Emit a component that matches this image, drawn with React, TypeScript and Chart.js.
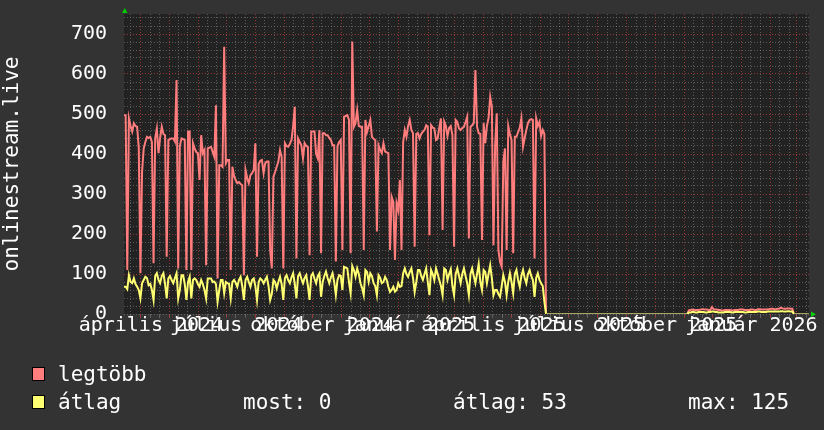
import React, { useEffect, useRef } from 'react';
import { Chart, registerables } from 'chart.js';

Chart.register(...registerables);

// ---- data -------------------------------------------------------------
const SERIES_LABELS = ['legtöbb', 'átlag'];
const SAMPLE_STEP_DAYS = 1.75; // four samples per week
const RANGE_START = Date.UTC(2024, 2, 14);
const RANGE_DAYS = 730;

// legtöbb (max)
const maxValues = [
  497, 497, 110, 489, 470, 456, 477, 470, 468, 414,
  102, 356, 414, 430, 443, 440, 443, 430, 127, 440,
  464, 402, 440, 468, 450, 447, 143, 435, 437, 439,
  439, 431, 585, 114, 420, 439, 437, 435, 110, 456,
  456, 110, 427, 414, 405, 402, 335, 447, 402, 410,
  122, 414, 416, 418, 405, 393, 522, 89, 372, 372,
  368, 668, 377, 385, 385, 110, 368, 345, 335, 327,
  330, 325, 322, 97, 360, 340, 327, 347, 352, 360,
  427, 143, 375, 383, 385, 352, 377, 381, 381, 160,
  114, 343, 355, 368, 381, 410, 393, 114, 427, 420,
  418, 425, 435, 470, 518, 139, 439, 430, 422, 389,
  427, 420, 418, 147, 456, 456, 456, 400, 389, 460,
  152, 452, 452, 447, 447, 440, 435, 422, 422, 131,
  420, 430, 435, 160, 493, 495, 497, 485, 152, 681,
  468, 477, 510, 470, 468, 468, 160, 485, 455, 470,
  485, 443, 438, 435, 206, 422, 410, 402, 427, 406,
  404, 402, 160, 293, 280, 135, 277, 260, 335, 160,
  430, 460, 443, 470, 485, 460, 452, 168, 450, 452,
  439, 450, 456, 460, 472, 468, 197, 472, 466, 464,
  435, 439, 465, 489, 210, 481, 470, 445, 465, 470,
  447, 168, 485, 480, 464, 460, 465, 468, 480, 493,
  189, 468, 472, 477, 610, 468, 452, 450, 185, 477,
  427, 470, 490, 543, 518, 172, 420, 502, 160, 130,
  118, 381, 414, 160, 470, 450, 435, 152, 443, 443,
  455, 465, 489, 418, 440, 460, 477, 485, 487, 485,
  139, 489, 470, 480, 445, 460, 450,
  0, 0, 0, 0, 0, 0, 0, 0, 0, 0,
  0, 0, 0, 0, 0, 0, 0, 0, 0, 0,
  0, 0, 0, 0, 0, 0, 0, 0, 0, 0,
  0, 0, 0, 0, 0, 0, 0, 0, 0, 0,
  0, 0, 0, 0, 0, 0, 0, 0, 0, 0,
  0, 0, 0, 0, 0, 0, 0, 0, 0, 0,
  0, 0, 0, 0, 0, 0, 0, 0, 0, 0,
  0, 0, 0, 0, 0, 0, 0, 0, 0, 0,
  0, 0, 0, 0, 0, 0, 0,
  9, 10, 11, 10, 10, 10, 10, 11, 12, 12,
  11, 11, 10, 10, 17, 12, 11, 11, 10, 10,
  9, 9, 10, 10, 10, 10, 9, 9, 10, 10,
  10, 11, 11, 11, 10, 10, 10, 10, 11, 11,
  10, 10, 12, 12, 11, 11, 11, 11, 12, 12,
  13, 13, 12, 12, 13, 13, 16, 14, 13, 13,
  14, 14, 13, 13,
  0, 0, 0, 0, 0, 0, 0, 0, 0, 0,
];

// átlag (average)
const avgValues = [
  68, 68, 62, 97, 80, 77, 89, 75, 68, 60,
  39, 77, 85, 93, 90, 72, 75, 60, 35, 95,
  102, 85, 77, 95, 102, 75, 39, 89, 95, 85,
  77, 90, 102, 39, 60, 97, 97, 75, 35, 80,
  93, 39, 85, 89, 85, 75, 68, 85, 75, 60,
  39, 89, 89, 89, 80, 81, 75, 31, 60, 85,
  85, 52, 80, 77, 75, 39, 80, 85, 78, 68,
  85, 93, 70, 35, 85, 93, 80, 68, 85, 89,
  70, 35, 80, 89, 85, 77, 85, 93, 70, 35,
  50, 85, 80, 64, 80, 93, 75, 35, 90, 97,
  85, 77, 92, 102, 75, 39, 95, 102, 88, 77,
  90, 97, 70, 35, 95, 102, 88, 77, 95, 102,
  43, 80, 95, 106, 90, 77, 92, 102, 80, 47,
  85, 97, 95, 60, 118, 116, 114, 80, 52, 120,
  110, 93, 114, 100, 77, 65, 47, 110, 105, 81,
  102, 95, 77, 70, 47, 97, 90, 77, 80, 93,
  85, 68, 55, 60, 68, 56, 60, 77, 68, 70,
  102, 114, 100, 93, 105, 114, 90, 55, 80, 110,
  110, 95, 85, 100, 114, 80, 47, 110, 100, 85,
  114, 100, 85, 70, 47, 114, 110, 85, 100, 112,
  70, 47, 100, 114, 95, 77, 100, 114, 95, 77,
  47, 100, 114, 95, 77, 100, 125, 80, 60, 110,
  105, 77, 100, 122, 90, 47, 60, 60, 50, 43,
  70, 97, 80, 47, 80, 102, 80, 52, 100, 110,
  85, 68, 95, 110, 90, 77, 100, 110, 95, 85,
  43, 90, 102, 85, 77, 70, 31,
  0, 0, 0, 0, 0, 0, 0, 0, 0, 0,
  0, 0, 0, 0, 0, 0, 0, 0, 0, 0,
  0, 0, 0, 0, 0, 0, 0, 0, 0, 0,
  0, 0, 0, 0, 0, 0, 0, 0, 0, 0,
  0, 0, 0, 0, 0, 0, 0, 0, 0, 0,
  0, 0, 0, 0, 0, 0, 0, 0, 0, 0,
  0, 0, 0, 0, 0, 0, 0, 0, 0, 0,
  0, 0, 0, 0, 0, 0, 0, 0, 0, 0,
  0, 0, 0, 0, 0, 0, 0,
  4, 4, 5, 5, 4, 4, 5, 5, 5, 5,
  4, 4, 5, 5, 6, 6, 5, 5, 4, 4,
  4, 4, 5, 5, 5, 5, 4, 4, 5, 5,
  5, 5, 5, 5, 4, 4, 5, 5, 5, 5,
  5, 5, 6, 6, 5, 5, 5, 5, 6, 6,
  6, 6, 6, 6, 6, 6, 7, 7, 6, 6,
  7, 7, 6, 6,
  0, 0, 0, 0, 0, 0, 0, 0, 0, 0,
];

const xLabelDates = [
  '2024-04-01', '2024-07-01', '2024-10-01', '2025-01-01',
  '2025-04-01', '2025-07-01', '2025-10-01', '2026-01-01',
];
const xLabelTexts = [
  'április 2024', 'július 2024', 'október 2024', 'január 2025',
  'április 2025', 'július 2025', 'október 2025', 'január 2026',
];
const yLabelValues = [0, 100, 200, 300, 400, 500, 600, 700];
const legendStats = ['most: 0', 'átlag: 53', 'max: 125'];
const Y_TITLE = 'onlinestream.live';

// ---- styles -----------------------------------------------------------
const FONT = '"DejaVu Sans Mono", monospace';
const BACK = '#333333';
const CANVAS_BG = '#222222';
const RED = '#ff7d7d';
const YELLOW = '#ffff72';
const GRID_MINOR = 'rgba(130,130,130,0.6)';
const GRID_MAJOR = 'rgba(175,60,60,0.8)';
const ARROW = '#00d000';

const DAY_MS = 86400000;
const dayOf = (y: number, m: number, d: number) => (Date.UTC(y, m - 1, d) - RANGE_START) / DAY_MS;
const dayOfIso = (s: string) => (Date.parse(s + 'T00:00:00Z') - RANGE_START) / DAY_MS;

// grid ticks: month starts (major) and 11th/21st (minor)
const majorDays: number[] = [];
const minorDays: number[] = [];
for (let y = 2024; y <= 2026; y++) {
  for (let m = 1; m <= 12; m++) {
    for (const d of [1, 11, 21]) {
      const v = dayOf(y, m, d);
      if (v <= 0 || v >= RANGE_DAYS) continue;
      (d === 1 ? majorDays : minorDays).push(v);
    }
  }
}
const majorSet = new Set(majorDays);
const labelMap = new Map<number, string>();
xLabelDates.forEach((s, i) => labelMap.set(dayOfIso(s), xLabelTexts[i]));
const xTickValues = [...majorDays, ...minorDays].sort((a, b) => a - b);

const yGridValues: number[] = [];
for (let v = 0; v < 750; v += 20) yGridValues.push(v);

const toPoints = (vals: number[]) => vals.map((v, i) => ({ x: i * SAMPLE_STEP_DAYS, y: v }));

const zeroSeg = (ctx: any) => ctx.p0.parsed.y === 0 && ctx.p1.parsed.y === 0;

const rrdPlugin = {
  id: 'rrdDecor',
  beforeDraw(chart: any) {
    const { ctx, chartArea: a } = chart;
    ctx.save();
    ctx.fillStyle = BACK;
    ctx.fillRect(0, 0, chart.width, chart.height);
    ctx.fillStyle = CANVAS_BG;
    ctx.fillRect(a.left, a.top, a.right - a.left, a.bottom - a.top);
    ctx.restore();
  },
  afterDraw(chart: any) {
    const { ctx, chartArea: a } = chart;
    ctx.save();
    // arrows
    ctx.fillStyle = ARROW;
    ctx.beginPath();
    ctx.moveTo(a.left - 2, a.top - 1);
    ctx.lineTo(a.left + 3.5, a.top - 1);
    ctx.lineTo(a.left + 0.75, a.top - 6);
    ctx.closePath();
    ctx.fill();
    ctx.beginPath();
    ctx.moveTo(a.right + 2, a.bottom - 2.5);
    ctx.lineTo(a.right + 2, a.bottom + 3);
    ctx.lineTo(a.right + 7, a.bottom + 0.25);
    ctx.closePath();
    ctx.fill();

    // legend
    const colors = [RED, YELLOW];
    const rows = [381, 409];
    ctx.font = '21px ' + FONT;
    ctx.textBaseline = 'alphabetic';
    ctx.textAlign = 'left';
    SERIES_LABELS.forEach((lab, i) => {
      const by = rows[i];
      ctx.fillStyle = colors[i];
      ctx.fillRect(32, by - 14, 13, 14);
      ctx.strokeStyle = '#000';
      ctx.lineWidth = 1;
      ctx.strokeRect(32.5, by - 13.5, 12, 13);
      ctx.fillStyle = '#ffffff';
      ctx.fillText(lab, 58, by);
    });
    const statX = [243, 453, 688];
    legendStats.forEach((s, i) => ctx.fillText(s, statX[i], rows[1]));
    ctx.restore();
  },
};

export default function App() {
  const ref = useRef<HTMLCanvasElement>(null);
  useEffect(() => {
    document.body.style.margin = '0';
    document.body.style.background = BACK;
    const chart = new Chart(ref.current as HTMLCanvasElement, {
      type: 'line',
      data: {
        datasets: [
          {
            label: SERIES_LABELS[0],
            data: toPoints(maxValues),
            borderColor: RED,
            borderWidth: 2,
            pointRadius: 0,
            tension: 0,
            fill: false,
            order: 1,
            segment: { borderColor: (c: any) => (zeroSeg(c) ? 'rgba(0,0,0,0)' : undefined) },
          },
          {
            label: SERIES_LABELS[1],
            data: toPoints(avgValues),
            borderColor: YELLOW,
            borderWidth: 2,
            pointRadius: 0,
            tension: 0,
            fill: false,
            order: 0,
            segment: { borderColor: (c: any) => (zeroSeg(c) ? 'rgba(170,165,95,1)' : undefined) },
          },
        ],
      },
      options: {
        responsive: false,
        animation: false,
        devicePixelRatio: 1,
        events: [],
        layout: { padding: { top: 14, right: 15, bottom: 0, left: 0 } },
        plugins: { legend: { display: false }, tooltip: { enabled: false } },
        scales: {
          x: {
            type: 'linear',
            min: 0,
            max: RANGE_DAYS,
            afterBuildTicks: (s: any) => {
              s.ticks = xTickValues.map((v) => ({ value: v }));
            },
            afterFit: (s: any) => {
              s.height = 116;
              s.paddingLeft = 0;
              s.paddingRight = 0;
            },
            grid: {
              color: (c: any) => (c.tick && majorSet.has(c.tick.value) ? GRID_MAJOR : GRID_MINOR),
              tickColor: (c: any) => (c.tick && majorSet.has(c.tick.value) ? GRID_MAJOR : GRID_MINOR),
              lineWidth: 1,
              drawTicks: true,
              tickLength: 4,
            },
            border: { display: false, dash: [1, 2] },
            ticks: {
              autoSkip: false,
              maxRotation: 0,
              minRotation: 0,
              color: '#ffffff',
              font: { family: FONT, size: 20 },
              padding: -4,
              labelOffset: 10,
              callback: (v: any) => labelMap.get(v) ?? '',
            },
          },
          y: {
            type: 'linear',
            min: 0,
            max: 750,
            afterBuildTicks: (s: any) => {
              s.ticks = yGridValues.map((v) => ({ value: v }));
            },
            afterFit: (s: any) => {
              s.width = 124;
              s.paddingTop = 0;
              s.paddingBottom = 0;
            },
            grid: {
              color: (c: any) =>
                c.tick && c.tick.value > 0 && yLabelValues.includes(c.tick.value) ? GRID_MAJOR : GRID_MINOR,
              lineWidth: 1,
              drawTicks: false,
            },
            border: { display: false, dash: [1, 2] },
            ticks: {
              autoSkip: false,
              color: '#ffffff',
              font: { family: FONT, size: 20 },
              padding: 17,
              callback: (v: any) => (yLabelValues.includes(v) ? String(v) : ''),
            },
            title: {
              display: true,
              text: Y_TITLE,
              color: '#ffffff',
              font: { family: FONT, size: 21 },
              padding: 0,
            },
          },
        },
      },
      plugins: [rrdPlugin],
    } as any);
    return () => chart.destroy();
  }, []);
  return (
    <div style={{ width: 824, height: 430, background: BACK }}>
      <canvas ref={ref} width={824} height={430} />
    </div>
  );
}
